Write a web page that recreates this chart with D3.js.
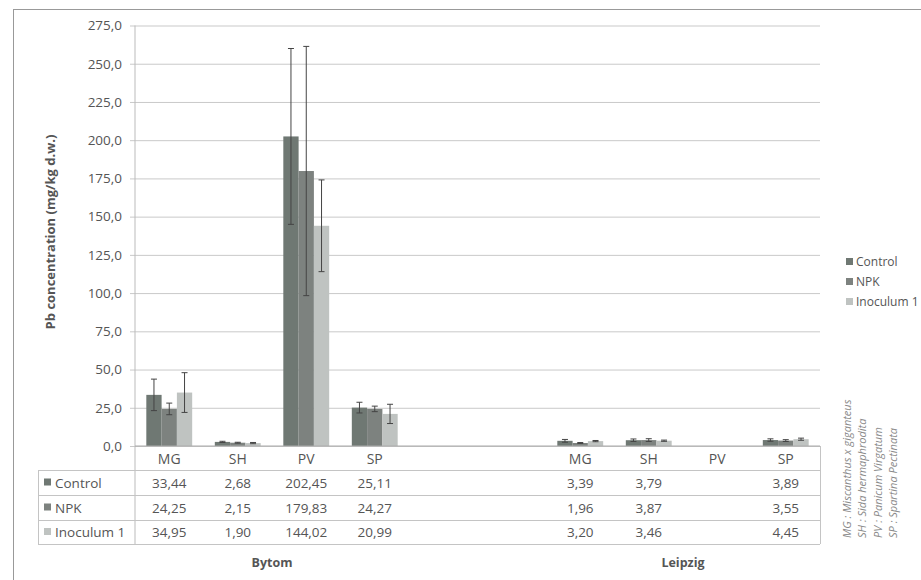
<!doctype html>
<html>
<head>
    <meta charset="utf-8">
    <script src="https://d3js.org/d3.v7.min.js"></script>
    <style>
        body { margin: 0; background: #fff; }
        text { font-family: "Open Sans", sans-serif; fill: #555; }
    </style>
</head>
<body>
    <script>
        var width = 921;
        var height = 580;

        var sites = ["Bytom", "Leipzig"];
        var species = ["MG", "SH", "PV", "SP"];
        var seriesNames = ["Control", "NPK", "Inoculum 1"];

        // values per site/species, in order Bytom MG..SP then Leipzig MG..SP
        var controlVals = [33.44, 2.68, 202.45, 25.11, 3.39, 3.79, null, 3.89];
        var npkVals = [24.25, 2.15, 179.83, 24.27, 1.96, 3.87, null, 3.55];
        var inocVals = [34.95, 1.90, 144.02, 20.99, 3.20, 3.46, null, 4.45];

        // error bars
        var controlErr = [10.3, 0.4, 57.5, 3.5, 0.9, 0.8, null, 0.8];
        var npkErr = [3.8, 0.3, 81.5, 1.8, 0.3, 0.9, null, 0.6];
        var inocErr = [13.0, 0.4, 30.0, 6.3, 0.4, 0.4, null, 0.7];

        var yTicks = [0, 25, 50, 75, 100, 125, 150, 175, 200, 225, 250, 275];

        var notes = ["MG : Miscanthus x giganteus",
                     "SH : Sida hermaphrodita",
                     "PV : Panicum Virgatum",
                     "SP : Spartina Pectinata"];

        var colors = ["#6f7873", "#7d827f", "#bfc3c1"];
        var allVals = [controlVals, npkVals, inocVals];
        var allErr = [controlErr, npkErr, inocErr];

        // slots: 4 Bytom, 2 empty, 4 Leipzig
        var slots = [];
        species.forEach(function(s){ slots.push(sites[0] + "|" + s); });
        slots.push("gap1", "gap2");
        species.forEach(function(s){ slots.push(sites[1] + "|" + s); });

        var records = [];
        sites.forEach(function(site, si){
            species.forEach(function(sp, pi){
                var idx = si * species.length + pi;
                seriesNames.forEach(function(name, k){
                    records.push({slot: site + "|" + sp, series: name, k: k,
                                  value: allVals[k][idx], err: allErr[k][idx]});
                });
            });
        });

        var plotLeft = 135, plotRight = 820, plotTop = 25.5, plotBottom = 446;

        var x = d3.scaleBand().domain(slots).range([plotLeft, plotRight]);
        var xs = d3.scaleBand().domain(seriesNames).range([0, x.bandwidth()])
                    .paddingInner(0).paddingOuter(0.74);
        var y = d3.scaleLinear().domain([0, 275]).range([plotBottom, plotTop]);

        var fmt = function(v){ return v == null ? "" : d3.format(".2f")(v).replace(".", ","); };

        var svg = d3.select("body").append("svg")
                    .attr("width", width)
                    .attr("height", height);

        // outer frame
        svg.append("rect")
           .attr("x", 13.5).attr("y", 9.5)
           .attr("width", 920).attr("height", 600)
           .attr("fill", "none").attr("stroke", "#999");

        // y axis with gridlines
        var yAxis = svg.append("g")
            .attr("transform", "translate(" + plotLeft + ",0)")
            .call(d3.axisLeft(y).tickValues(yTicks)
                  .tickSize(-(plotRight - plotLeft))
                  .tickFormat(function(d){ return d3.format(".1f")(d).replace(".", ","); }));
        yAxis.select(".domain").remove();
        yAxis.selectAll(".tick line").attr("stroke", "#c9c9c9").attr("x1", -5);
        yAxis.selectAll(".tick text")
             .attr("x", -13)
             .style("font-size", "13.5px").style("fill", "#555");

        // vertical axis line (extends through the table)
        svg.append("line")
           .attr("x1", plotLeft).attr("x2", plotLeft)
           .attr("y1", plotTop).attr("y2", 544)
           .attr("stroke", "#bbb");

        // bars
        svg.append("g").selectAll("rect")
           .data(records.filter(function(d){ return d.value != null; }))
           .enter().append("rect")
           .attr("x", function(d){ return x(d.slot) + xs(d.series); })
           .attr("y", function(d){ return y(d.value); })
           .attr("width", xs.bandwidth())
           .attr("height", function(d){ return y(0) - y(d.value); })
           .attr("fill", function(d){ return colors[d.k]; });

        // error bars
        var eb = svg.append("g").selectAll("g")
           .data(records.filter(function(d){ return d.value != null; }))
           .enter().append("g")
           .attr("stroke", "#444").attr("stroke-width", 1);
        var cx = function(d){ return x(d.slot) + xs(d.series) + xs.bandwidth() / 2; };
        eb.append("line")
          .attr("x1", cx).attr("x2", cx)
          .attr("y1", function(d){ return y(d.value + d.err); })
          .attr("y2", function(d){ return y(d.value - d.err); });
        eb.append("line")
          .attr("x1", function(d){ return cx(d) - 3; }).attr("x2", function(d){ return cx(d) + 3; })
          .attr("y1", function(d){ return y(d.value + d.err); })
          .attr("y2", function(d){ return y(d.value + d.err); });
        eb.append("line")
          .attr("x1", function(d){ return cx(d) - 3; }).attr("x2", function(d){ return cx(d) + 3; })
          .attr("y1", function(d){ return y(d.value - d.err); })
          .attr("y2", function(d){ return y(d.value - d.err); });

        // zero line
        svg.append("line")
           .attr("x1", plotLeft).attr("x2", plotRight)
           .attr("y1", y(0)).attr("y2", y(0))
           .attr("stroke", "#aaa");

        // data table
        var tableLeft = 38;
        var rowLines = [470, 495, 520, 544];
        var tbl = svg.append("g").attr("stroke", "#c4c4c4").attr("fill", "none");
        rowLines.forEach(function(ry){
            tbl.append("line").attr("x1", tableLeft).attr("x2", plotRight)
               .attr("y1", ry + 0.5).attr("y2", ry + 0.5);
        });
        tbl.append("line").attr("x1", tableLeft + 0.5).attr("x2", tableLeft + 0.5)
           .attr("y1", rowLines[0]).attr("y2", rowLines[3]);
        tbl.append("line").attr("x1", plotRight + 0.5).attr("x2", plotRight + 0.5)
           .attr("y1", y(0)).attr("y2", rowLines[3]);

        // category labels row
        svg.append("g").selectAll("text")
           .data(slots.filter(function(s){ return s.indexOf("|") > 0; }))
           .enter().append("text")
           .attr("x", function(s){ return x(s) + x.bandwidth() / 2; })
           .attr("y", 464)
           .attr("text-anchor", "middle")
           .style("font-size", "14px")
           .text(function(s){ return s.split("|")[1]; });

        // value rows
        seriesNames.forEach(function(name, k){
            var ry = (rowLines[k] + rowLines[k + 1]) / 2 + 5;
            svg.append("rect")
               .attr("x", 44).attr("y", ry - 9)
               .attr("width", 7).attr("height", 7)
               .attr("fill", colors[k]);
            svg.append("text")
               .attr("x", 55).attr("y", ry)
               .style("font-size", "13.5px")
               .text(name);
            svg.append("g").selectAll("text")
               .data(records.filter(function(d){ return d.k === k; }))
               .enter().append("text")
               .attr("x", function(d){ return x(d.slot) + x.bandwidth() / 2; })
               .attr("y", ry)
               .attr("text-anchor", "middle")
               .style("font-size", "13.5px")
               .text(function(d){ return fmt(d.value); });
        });

        // site labels
        sites.forEach(function(site){
            var first = x(site + "|" + species[0]);
            var last = x(site + "|" + species[species.length - 1]) + x.bandwidth();
            svg.append("text")
               .attr("x", (first + last) / 2).attr("y", 567)
               .attr("text-anchor", "middle")
               .style("font-size", "12.5px").style("font-weight", "bold")
               .text(site);
        });

        // y axis title
        svg.append("text")
           .attr("transform", "translate(55," + 232 + ") rotate(-90)")
           .attr("text-anchor", "middle")
           .style("font-size", "13px").style("font-weight", "bold")
           .text("Pb concentration (mg/kg d.w.)");

        // legend
        var legend = svg.append("g");
        seriesNames.forEach(function(name, k){
            var ly = 266 + k * 20;
            legend.append("rect")
                  .attr("x", 846).attr("y", ly - 8)
                  .attr("width", 7).attr("height", 7)
                  .attr("fill", colors[k]);
            legend.append("text")
                  .attr("x", 856).attr("y", ly)
                  .style("font-size", "12px")
                  .text(name);
        });

        // species note (rotated)
        notes.forEach(function(n, i){
            svg.append("text")
               .attr("transform", "translate(" + (851 + i * 15.3) + ",538) rotate(-90)")
               .style("font-size", "11px").style("font-style", "italic")
               .style("fill", "#8a8a8a")
               .text(n);
        });
    </script>
</body>
</html>
